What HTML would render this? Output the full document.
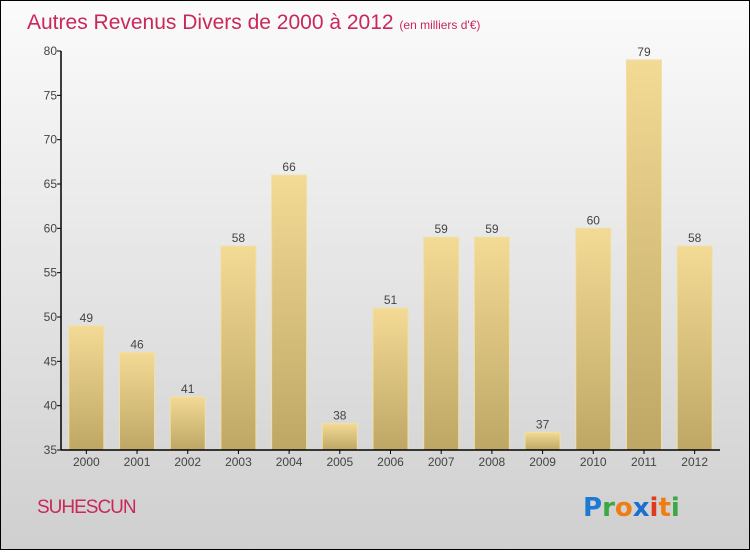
<!DOCTYPE html>
<html><head><meta charset="utf-8"><style>
html,body{margin:0;padding:0;}
body{width:750px;height:550px;overflow:hidden;font-family:"Liberation Sans",sans-serif;}
</style></head><body>
<svg width="750" height="550" xmlns="http://www.w3.org/2000/svg">
<defs>
<linearGradient id="bg" x1="0" y1="0" x2="0" y2="1"><stop offset="0" stop-color="#fbfbfb"/><stop offset="1" stop-color="#cfcfcf"/></linearGradient>
<linearGradient id="bar" x1="0" y1="0" x2="0" y2="1"><stop offset="0" stop-color="#f3da95"/><stop offset="1" stop-color="#bea765"/></linearGradient>
</defs>
<rect x="0.5" y="0.5" width="749" height="549" fill="url(#bg)" stroke="#000"/>
<text x="27" y="29" font-size="21" fill="#c8285a">Autres Revenus Divers de 2000 à 2012 <tspan font-size="12">(en milliers d'€)</tspan></text>
<g id="yaxis"></g>
<g id="bars"></g>
<g id="xaxis"></g>
<text x="37" y="513" font-size="19" fill="#c8285a" letter-spacing="-1">SUHESCUN</text>
<g font-size="26" font-family="'DejaVu Sans',sans-serif" font-weight="bold">
<text x="583" y="516"><tspan fill="#1a7ad4">P</tspan><tspan fill="#3aa843">r</tspan><tspan fill="#f07d12">o</tspan><tspan fill="#1a6fd0">x</tspan><tspan fill="#e03a1e">i</tspan><tspan fill="#f07d12">t</tspan><tspan fill="#3aa843">i</tspan></text>
</g>
</svg>
<script>
const years=["2000","2001","2002","2003","2004","2005","2006","2007","2008","2009","2010","2011","2012"];
const values=[49,46,41,58,66,38,51,59,59,37,60,79,58];
const yTicks=[35,40,45,50,55,60,65,70,75,80];
const NS="http://www.w3.org/2000/svg";
const x0=61,x1=720,yTop=51,yBot=450,vMin=35,vMax=80;
const band=(x1-x0)/years.length;
function y(v){return yBot-(v-vMin)/(vMax-vMin)*(yBot-yTop);}
function xc(i){return x0+band*(i+0.5);}
function mk(tag,attrs,parent,text){const e=document.createElementNS(NS,tag);for(const k in attrs)e.setAttribute(k,attrs[k]);if(text!==undefined)e.textContent=text;parent.appendChild(e);return e;}
const ya=document.getElementById('yaxis'),ba=document.getElementById('bars'),xa=document.getElementById('xaxis');
yTicks.forEach(t=>{
  const l=mk('line',{x1:x0-4,x2:x0,y1:y(t),y2:y(t),stroke:'#000'},ya);
  
  
  const tx=mk('text',{x:x0-4,y:y(t)+4,'text-anchor':'end','font-size':12,fill:'#444'},ya,String(t));
  
  
});
mk('line',{x1:x0,x2:x0,y1:yTop,y2:yBot,stroke:'#000','stroke-width':1.5},ya);
values.forEach((v,i)=>{
  const r=mk('rect',{x:xc(i)-17.5,y:y(v),width:35,height:yBot-y(v),fill:'url(#bar)',stroke:'#f0e0a8','stroke-width':1},ba);
  
  
  const t=mk('text',{x:xc(i),y:y(v)-4,'text-anchor':'middle','font-size':12,fill:'#444'},ba,String(v));
  
  
  const tk=mk('line',{x1:xc(i),x2:xc(i),y1:yBot,y2:yBot+4,stroke:'#000'},xa);
  
  
  const xl=mk('text',{x:xc(i),y:yBot+16,'text-anchor':'middle','font-size':12,fill:'#444'},xa,years[i]);
  
  
});
mk('line',{x1:x0,x2:x1,y1:yBot,y2:yBot,stroke:'#000','stroke-width':1.5},xa);
</script>
</body></html>
